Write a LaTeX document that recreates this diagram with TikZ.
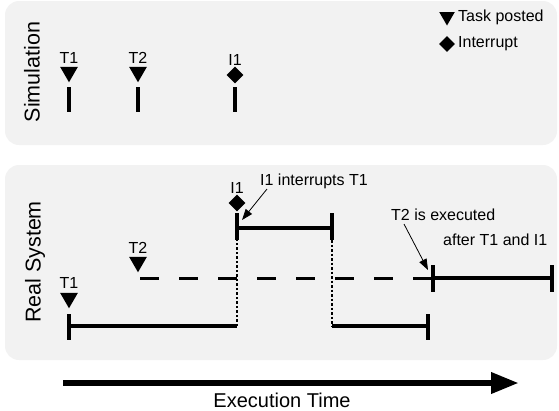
\documentclass[tikz,border=0pt]{standalone}
\usepackage{fontspec}
\setmainfont{Liberation Sans}
\usetikzlibrary{shapes.geometric,arrows.meta}
\definecolor{panel}{HTML}{F2F2F2}
\begin{document}
\begin{tikzpicture}[x=1pt,y=-1pt,
 panelbox/.style={fill=panel, rounded corners=14pt},
 task/.style={regular polygon, regular polygon sides=3, regular polygon rotate=180, fill=black, minimum size=20.5pt, inner sep=0pt},
 intr/.style={diamond, fill=black, minimum width=17pt, minimum height=17pt, inner sep=0pt},
 lbl/.style={font=\fontsize{16}{19}\selectfont, inner sep=0pt},
 biglbl/.style={font=\fontsize{21.5}{24}\selectfont, rotate=90, inner sep=0pt},
 tickmark/.style={line width=4pt},
 run/.style={line width=3.2pt},
 waitline/.style={line width=3pt, dash pattern=on 19pt off 20pt},
 stall/.style={line width=2pt, dash pattern=on 2.5pt off 2pt},
 note/.style={line width=0.8pt, -{Triangle[length=11pt,width=8pt]}},
 timearrow/.style={line width=6.5pt, -{Triangle[length=28pt,width=20pt]}},
]
\useasboundingbox (0,0) rectangle (559,410);
% panels
\fill[panelbox] (5,1) rectangle (557,145);
\fill[panelbox] (5,165) rectangle (557,360);

% ---------- Simulation ----------
\node[biglbl] (simlbl) at (32,72) {Simulation};
\node[lbl] (st1l) at (69,58) {T1};
\node[task] (st1) at (69,72) {};
\coordinate (st1a) at (69,87); \coordinate (st1b) at (69,112);
\draw[tickmark] (st1a) -- (st1b);
\node[lbl] (st2l) at (138,58) {T2};
\node[task] (st2) at (138,72) {};
\coordinate (st2a) at (138,87); \coordinate (st2b) at (138,112);
\draw[tickmark] (st2a) -- (st2b);
\node[lbl] (si1l) at (235,60) {I1};
\node[intr] (si1) at (235,75) {};
\coordinate (si1a) at (235,87); \coordinate (si1b) at (235,112);
\draw[tickmark] (si1a) -- (si1b);

% legend
\node[task, minimum size=18pt] (legt) at (447,16.5) {};
\node[lbl, anchor=west] (legtl) at (458,17) {Task posted};
\node[intr, minimum width=16pt, minimum height=16pt] (legi) at (447,44) {};
\node[lbl, anchor=west] (legil) at (458,44) {Interrupt};

% ---------- Real System ----------
\node[biglbl] (reallbl) at (35,262) {Real System};
% T1
\node[lbl] (rt1l) at (69,283) {T1};
\node[task] (rt1) at (69,298) {};
\coordinate (t1s) at (69,326);
\coordinate (t1sa) at (69,314); \coordinate (t1sb) at (69,340);
\coordinate (t1p) at (237,326);
\draw[tickmark] (t1sa) -- (t1sb);
\draw[run] (t1s) -- (t1p);
% I1
\node[lbl] (ri1l) at (237,188) {I1};
\node[intr] (ri1) at (237,203) {};
\coordinate (i1a) at (237,213); \coordinate (i1b) at (237,240);
\coordinate (i1s) at (237,228); \coordinate (i1e) at (332,228);
\coordinate (i1ea) at (332,213); \coordinate (i1eb) at (332,240);
\draw[tickmark] (i1a) -- (i1b);
\draw[tickmark] (i1ea) -- (i1eb);
\draw[run] (i1s) -- (i1e);
\draw[stall] (t1p) -- (i1b);
% T1 resume
\coordinate (t1r) at (332,326); \coordinate (t1e) at (428,326);
\coordinate (t1ea) at (428,314); \coordinate (t1eb) at (428,340);
\draw[stall] (i1eb) -- (t1r);
\draw[run] (t1r) -- (t1e);
\draw[tickmark] (t1ea) -- (t1eb);
% T2
\node[lbl] (rt2l) at (138,248) {T2};
\node[task] (rt2) at (138,262) {};
\coordinate (t2w) at (140,278); \coordinate (t2s) at (433,278);
\coordinate (t2sa) at (433,265); \coordinate (t2sb) at (433,292);
\coordinate (t2e) at (552,278);
\coordinate (t2ea) at (552,265); \coordinate (t2eb) at (552,292);
\draw[waitline] (t2w) -- (t2s);
\draw[run] (t2s) -- (t2e);
\draw[tickmark] (t2sa) -- (t2sb);
\draw[tickmark] (t2ea) -- (t2eb);

% annotations
\node[lbl, anchor=west] (n1) at (260,181) {I1 interrupts T1};
\coordinate (n1a) at (267,189); \coordinate (n1b) at (242,220);
\draw[note] (n1a) -- (n1b);
\node[lbl, anchor=west] (n2) at (391,215) {T2 is executed};
\node[lbl, anchor=west] (n2b) at (443,240) {after T1 and I1};
\coordinate (n2a) at (404,224); \coordinate (n2t) at (428,270);
\draw[note] (n2a) -- (n2t);

% time axis
\coordinate (ta) at (63,383); \coordinate (tb) at (519,383);
\draw[timearrow] (ta) -- (tb);
\node[font=\fontsize{20}{24}\selectfont, inner sep=0pt] (tl) at (282,400) {Execution Time};
\end{tikzpicture}
\end{document}
